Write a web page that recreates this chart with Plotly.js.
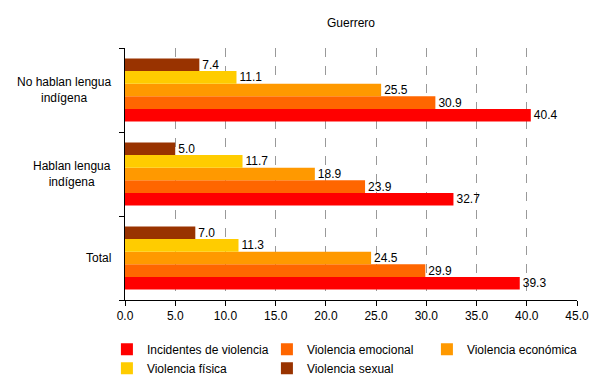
<!DOCTYPE html>
<html>
<head>
<meta charset="utf-8">
<script src="https://cdn.plot.ly/plotly-3.0.1.min.js"></script>
<style>html,body{margin:0;padding:0;background:#fff;}#chart{width:607px;height:386px;}</style>
</head>
<body>
<div id="chart"></div>
<script>
// Categories, bottom to top
const categories = ["Total", "Hablan lengua indígena", "No hablan lengua indígena"];
const categoryLabels = ["Total", "Hablan lengua<br>indígena", "No hablan lengua<br>indígena"];

const seriesNames = ["Incidentes de violencia", "Violencia emocional", "Violencia económica", "Violencia física", "Violencia sexual"];
const seriesColors = ["#FF0000", "#FF6600", "#FF9900", "#FFCC00", "#993300"];

const incidentes = [39.3, 32.7, 40.4];
const emocional = [29.9, 23.9, 30.9];
const economica = [24.5, 18.9, 25.5];
const fisica = [11.3, 11.7, 11.1];
const sexual = [7.0, 5.0, 7.4];

const seriesValues = [incidentes, emocional, economica, fisica, sexual];

const font = "Liberation Sans, Arial, sans-serif";

const traces = seriesValues.map((vals, i) => ({
  type: "bar",
  orientation: "h",
  name: seriesNames[i],
  y: categories,
  x: vals,
  marker: {color: seriesColors[i], line: {width: 0}},
  text: vals.map(v => v.toFixed(1)),
  textposition: "outside",
  constraintext: "none",
  textfont: {family: font, size: 12, color: "#000"},
  cliponaxis: false,
  hoverinfo: "x+name"
}));

const annotations = categories.map((c, i) => ({
  xref: "paper", yref: "y", x: 0, y: c,
  xanchor: "right", yanchor: "middle", xshift: -12,
  text: categoryLabels[i], align: "center", showarrow: false,
  font: {family: font, size: 12, color: "#000"}
}));
annotations.push({
  xref: "paper", yref: "paper", x: 0.5, y: 1, yshift: 16,
  text: "Guerrero", showarrow: false, xanchor: "center", yanchor: "bottom",
  font: {family: font, size: 12, color: "#000"}
});

const layout = {
  width: 607, height: 386,
  margin: {l: 125, r: 30, t: 48, b: 86, autoexpand: false},
  paper_bgcolor: "#fff", plot_bgcolor: "#fff",
  font: {family: font, size: 12, color: "#000"},
  barmode: "group",
  bargap: 0.25,
  bargroupgap: 0,
  showlegend: true,
  xaxis: {
    range: [0, 45], dtick: 5, tick0: 0, tickformat: ".1f",
    showline: true, linecolor: "#000", linewidth: 1,
    ticks: "outside", ticklen: 5, tickcolor: "#000",
    showgrid: true, gridcolor: "#999", griddash: "dash", gridwidth: 1,
    zeroline: false, fixedrange: true,
    tickfont: {family: font, size: 12, color: "#000"}
  },
  yaxis: {
    type: "category", categoryorder: "array", categoryarray: categories,
    showline: true, linecolor: "#000", linewidth: 1,
    ticks: "outside", ticklen: 5, tickcolor: "#000", tickson: "boundaries",
    showticklabels: false, showgrid: false, zeroline: false, fixedrange: true
  },
  legend: {
    orientation: "h", x: -0.04, xanchor: "left", y: -0.138, yanchor: "top",
    traceorder: "normal", entrywidth: 115,
    font: {family: font, size: 12, color: "#000"},
    itemwidth: 30, tracegroupgap: 0
  },
  annotations: annotations
};

Plotly.newPlot("chart", traces, layout, {displayModeBar: false, staticPlot: true});
</script>
</body>
</html>
